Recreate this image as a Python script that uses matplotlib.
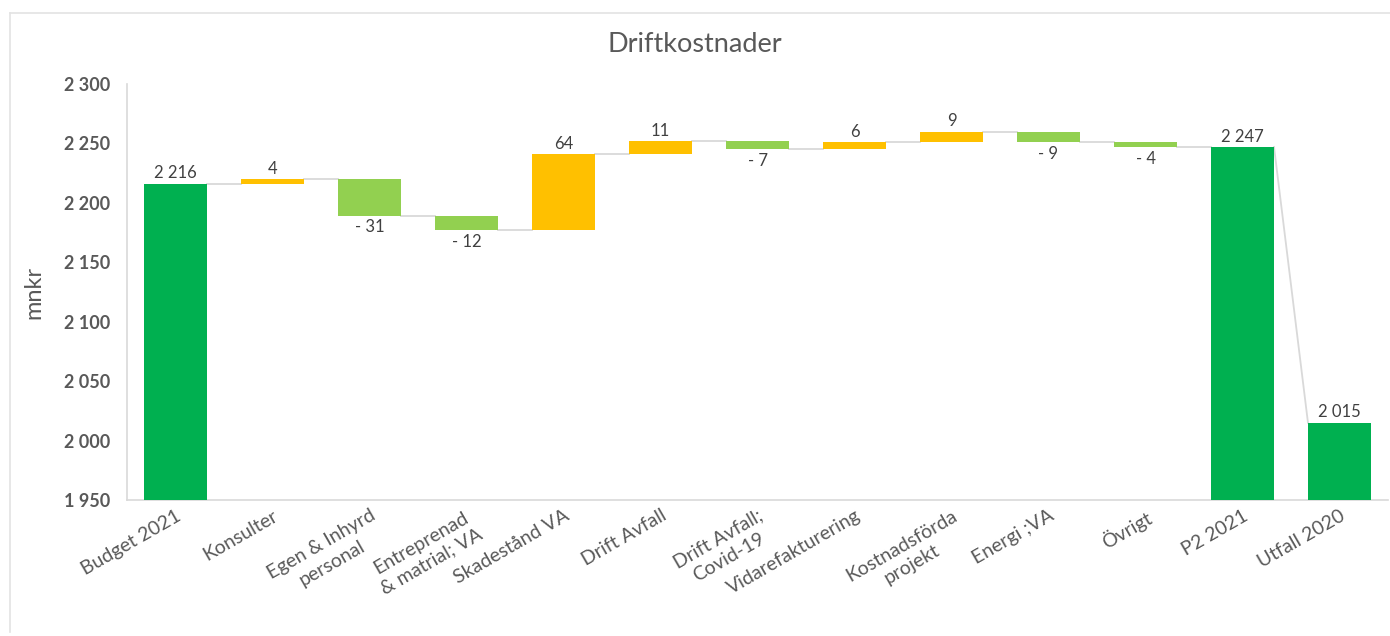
import matplotlib
matplotlib.use("Agg")
import matplotlib.pyplot as plt
from matplotlib.ticker import FuncFormatter, MultipleLocator
from matplotlib.lines import Line2D

categories = ["Budget 2021", "Konsulter", "Egen & Inhyrd\npersonal", "Entreprenad\n& matrial; VA",
              "Skadestånd VA", "Drift Avfall", "Drift Avfall;\nCovid-19", "Vidarefakturering",
              "Kostnadsförda\nprojekt", "Energi ;VA", "Övrigt", "P2 2021", "Utfall 2020"]
values = [2216, 4, -31, -12, 64, 11, -7, 6, 9, -9, -4, 2247, 2015]
is_total = [True, False, False, False, False, False, False, False, False, False, False, True, True]

C_TOTAL = "#00B050"
C_UP = "#FFC000"
C_DOWN = "#92D050"
C_LINE = "#D9D9D9"
C_TEXT = "#595959"
C_LABEL = "#404040"

plt.rcParams['font.family'] = ['Lato', 'DejaVu Sans']

fig = plt.figure(figsize=(13.9, 6.36), dpi=100)
ax = fig.add_axes([127/1390, 1-500/636, (1388-127)/1390, (500-84)/636])

YMIN, YMAX = 1950, 2300
width = 0.65
running = 0
tops = []
for i, (v, tot) in enumerate(zip(values, is_total)):
    if tot:
        running = v
        lab = f"{v:,}".replace(",", " ")
        ax.bar(i, v - YMIN, bottom=YMIN, width=width, color=C_TOTAL, zorder=3)
        ax.text(i, v + 2, lab, ha="center", va="bottom", fontsize=12, color=C_LABEL)
    else:
        start = running
        end = running + v
        color = C_UP if v > 0 else C_DOWN
        ax.bar(i, v, bottom=start, width=width, color=color, zorder=3)
        if v > 0:
            ax.text(i, end + 2, f"{v}", ha="center", va="bottom", fontsize=12, color=C_LABEL)
        else:
            ax.text(i, end - 3, f"- {abs(v)}", ha="center", va="top", fontsize=12, color=C_LABEL)
        running = end
    tops.append(running)

# connectors
for i in range(len(values) - 1):
    if is_total[i + 1] and i + 1 == len(values) - 1:
        ax.plot([i + width / 2, i + 1 - width / 2], [tops[i], values[i + 1]], color=C_LINE, lw=1.3, zorder=2)
    else:
        ax.plot([i + width / 2, i + 1 - width / 2], [tops[i], tops[i]], color=C_LINE, lw=1.3, zorder=2)

ax.set_xlim(-0.5, len(values) - 0.5)
ax.set_ylim(YMIN, YMAX)
ax.yaxis.set_major_locator(MultipleLocator(50))
ax.yaxis.set_major_formatter(FuncFormatter(lambda x, p: f"{int(x):,}".replace(",", " ")))
ax.tick_params(axis="y", length=0, pad=12, labelsize=13, labelcolor=C_TEXT)
ax.tick_params(axis="x", length=0, pad=5, labelsize=14, labelcolor=C_TEXT)
ax.set_xticks(range(len(categories)))
ax.set_xticklabels(categories, rotation=30, ha="right", rotation_mode="anchor",
                   multialignment="center", linespacing=1.3)
for t in ax.get_yticklabels():
    t.set_fontweight("bold")

for s in ["top", "right"]:
    ax.spines[s].set_visible(False)
ax.spines["left"].set_color(C_LINE)
ax.spines["bottom"].set_color(C_LINE)
ax.spines["left"].set_linewidth(1.2)
ax.spines["bottom"].set_linewidth(1.2)

ax.set_ylabel("mnkr", fontsize=17, color=C_TEXT, labelpad=14)
fig.text(0.5, 1 - 44/636, "Driftkostnader", ha="center", va="center", fontsize=19.5, color=C_TEXT)

# outer chart border
fig.add_artist(Line2D([10/1390, 10/1390], [1 - 13/636, 1 - 632/636], transform=fig.transFigure, color="#E3E3E3", lw=1.2))
fig.add_artist(Line2D([10/1390, 1.0], [1 - 13/636, 1 - 13/636], transform=fig.transFigure, color="#E3E3E3", lw=1.2))

fig.savefig("out.png", dpi=100)
